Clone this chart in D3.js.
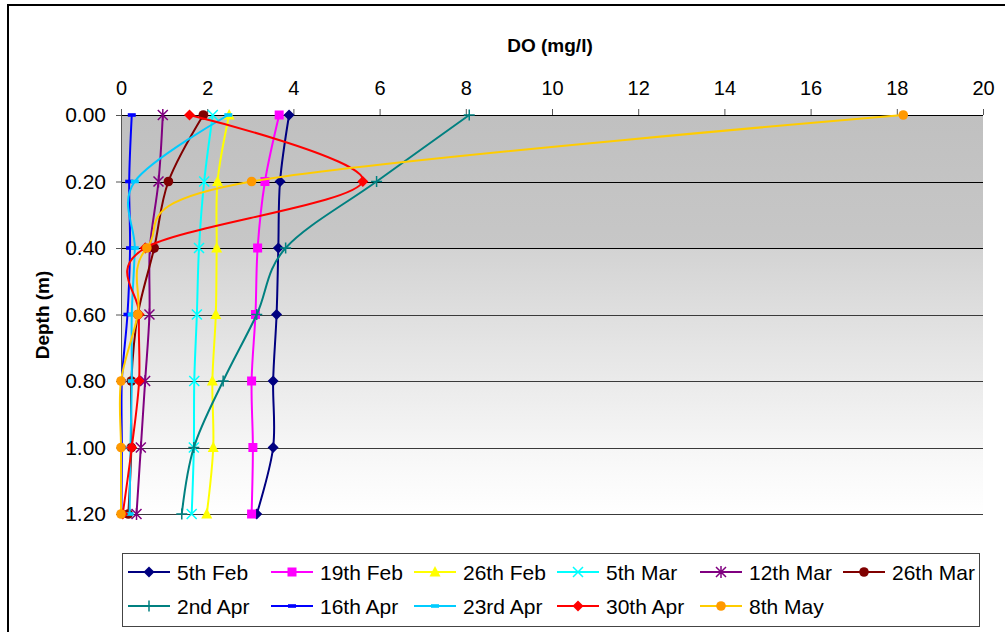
<!DOCTYPE html>
<html>
<head>
<meta charset="utf-8">
<script src="https://cdn.jsdelivr.net/npm/d3@7"></script>
<style>
    body { margin: 0; background: #fff; }
    text { font-family: "Liberation Sans", Arial, sans-serif; }
</style>
</head>
<body>
<div id="chart"></div>
<script>
// depths (m) and DO readings (mg/l), one array per sampling date
var depths = [0, 0.2, 0.4, 0.6, 0.8, 1.0, 1.2];
var seriesNames = ["5th Feb", "19th Feb", "26th Feb", "5th Mar", "12th Mar", "26th Mar",
    "2nd Apr", "16th Apr", "23rd Apr", "30th Apr", "8th May"];

var feb05 = [3.90, 3.69, 3.65, 3.61, 3.53, 3.53, 3.15];
var feb19 = [3.67, 3.34, 3.17, 3.12, 3.03, 3.06, 3.03];
var feb26 = [2.51, 2.24, 2.22, 2.20, 2.12, 2.14, 1.99];
var mar05 = [2.13, 1.93, 1.81, 1.76, 1.70, 1.69, 1.64];
var mar12 = [0.97, 0.87, 0.67, 0.66, 0.56, 0.46, 0.36];
var mar26 = [1.91, 1.10, 0.77, 0.39, 0.24, 0.24, 0.17];
var apr02 = [8.08, 5.93, 3.82, 3.15, 2.37, 1.69, 1.41];
var apr16 = [0.25, 0.19, 0.21, 0.15, 0.02, 0.02, 0.01];
var apr23 = [2.49, 0.32, 0.32, 0.25, 0.25, 0.22, 0.20];
var apr30 = [1.59, 5.61, 0.56, 0.42, 0.42, 0.25, 0.04];
var may08 = [18.15, 3.03, 0.60, 0.39, 0.00, 0.00, 0.00];

var xTicks = [0, 2, 4, 6, 8, 10, 12, 14, 16, 18, 20];

var allValues = [feb05, feb19, feb26, mar05, mar12, mar26, apr02, apr16, apr23, apr30, may08];

var styles = [
    { line: "#000080", fill: "#000080", shape: "diamond" },
    { line: "#ff00ff", fill: "#ff00ff", shape: "square" },
    { line: "#ffff00", fill: "#ffff00", shape: "triangle" },
    { line: "#00ffff", fill: "#00ffff", shape: "x" },
    { line: "#800080", fill: "#800080", shape: "star" },
    { line: "#800000", fill: "#800000", shape: "circle" },
    { line: "#008080", fill: "#008080", shape: "plus" },
    { line: "#0000ff", fill: "#0000ff", shape: "dash" },
    { line: "#00ccff", fill: "#00ccff", shape: "dash" },
    { line: "#ff0000", fill: "#ff0000", shape: "diamond" },
    { line: "#ffcc00", fill: "#ff9900", shape: "circle" }
];

DepthChart = function(_parentElement){
    this.parentElement = _parentElement;
    this.initVis();
}

DepthChart.prototype.initVis = function() {
    var vis = this;
    vis.W = 1005;
    vis.H = 632;
    vis.margin = { top: 115, left: 121, right: 22, bottom: 118 };
    vis.width = vis.W - vis.margin.left - vis.margin.right;
    vis.height = vis.H - vis.margin.top - vis.margin.bottom;

    vis.root = d3.select("#" + vis.parentElement).append("svg")
        .attr("width", vis.W)
        .attr("height", vis.H);

    // outer chart frame (runs past the right/bottom edge)
    vis.root.append("rect")
        .attr("x", 8).attr("y", 5)
        .attr("width", 1010).attr("height", 640)
        .attr("fill", "none")
        .attr("stroke", "#000")
        .attr("stroke-width", 2);

    var defs = vis.root.append("defs");
    var grad = defs.append("linearGradient")
        .attr("id", "bg").attr("x1", 0).attr("y1", 0).attr("x2", 0).attr("y2", 1);
    [[0, "#c0c0c0"], [0.333, "#c7c7c7"], [0.336, "#d3d3d3"], [0.6, "#e6e6e6"], [0.85, "#f7f7f7"], [1, "#ffffff"]]
        .forEach(function(s){
            grad.append("stop").attr("offset", s[0]).attr("stop-color", s[1]);
        });

    vis.svg = vis.root.append("g")
        .attr("transform", "translate(" + vis.margin.left + "," + vis.margin.top + ")");

    vis.x = d3.scaleLinear().domain([0, 20]).range([0, vis.width]);
    vis.y = d3.scaleLinear().domain([0, 1.2]).range([0, vis.height]);

    vis.updateVis();
}

DepthChart.prototype.marker = function(sel, shape, fill, stroke) {
    if (shape == "diamond") {
        sel.append("path").attr("d", "M0,-5.5L5.5,0L0,5.5L-5.5,0Z").attr("fill", fill);
    } else if (shape == "square") {
        sel.append("rect").attr("x", -4.5).attr("y", -4.5).attr("width", 9).attr("height", 9).attr("fill", fill);
    } else if (shape == "triangle") {
        sel.append("path").attr("d", "M0,-6L5.5,4.5L-5.5,4.5Z").attr("fill", fill);
    } else if (shape == "circle") {
        sel.append("circle").attr("r", 4.8).attr("fill", fill);
    } else if (shape == "x") {
        sel.append("path").attr("d", "M-5,-5L5,5M-5,5L5,-5").attr("stroke", stroke).attr("stroke-width", 1.5);
    } else if (shape == "star") {
        sel.append("path").attr("d", "M-5,-5L5,5M-5,5L5,-5M0,-6L0,6").attr("stroke", stroke).attr("stroke-width", 1.5);
    } else if (shape == "plus") {
        sel.append("path").attr("d", "M-5.5,0L5.5,0M0,-5.5L0,5.5").attr("stroke", stroke).attr("stroke-width", 1.5);
    } else if (shape == "dash") {
        sel.append("rect").attr("x", -4).attr("y", -1.8).attr("width", 8).attr("height", 3.6).attr("fill", fill);
    }
}

DepthChart.prototype.updateVis = function(){
    var vis = this;

    vis.svg.append("rect")
        .attr("width", vis.width)
        .attr("height", vis.height)
        .attr("fill", "url(#bg)");

    // horizontal gridlines
    vis.svg.selectAll(".grid")
        .data(depths)
        .enter().append("line")
        .attr("class", "grid")
        .attr("x1", 0).attr("x2", vis.width)
        .attr("y1", function(d){ return Math.round(vis.y(d)) + 0.5; })
        .attr("y2", function(d){ return Math.round(vis.y(d)) + 0.5; })
        .attr("stroke", function(d, i){ return i < 3 ? "#000" : "#3a3a3a"; })
        .attr("stroke-width", 1);

    // top x axis
    var xAxis = d3.axisTop(vis.x).tickValues(xTicks).tickSize(6).tickPadding(14);
    var gx = vis.svg.append("g").attr("class", "x-axis").call(xAxis);
    gx.select(".domain").remove();
    gx.selectAll(".tick line").attr("stroke", "#555");
    gx.selectAll("text").attr("font-size", 20).attr("fill", "#000");

    // left y axis
    var yAxis = d3.axisLeft(vis.y).tickValues(depths).tickFormat(d3.format(".2f")).tickSize(5).tickPadding(10);
    var gy = vis.svg.append("g").attr("class", "y-axis").call(yAxis);
    gy.select(".domain").attr("stroke", "#555").attr("d", "M0.5,0V" + vis.height);
    gy.selectAll(".tick line").attr("stroke", "#555");
    gy.selectAll("text").attr("font-size", 21).attr("fill", "#000");

    vis.root.append("text")
        .attr("x", 550).attr("y", 52)
        .attr("text-anchor", "middle")
        .attr("font-size", 19).attr("font-weight", "bold")
        .text("DO (mg/l)");

    vis.root.append("text")
        .attr("transform", "translate(49,315) rotate(-90)")
        .attr("text-anchor", "middle")
        .attr("font-size", 19).attr("font-weight", "bold")
        .text("Depth (m)");

    var line = d3.line()
        .x(function(d){ return vis.x(d.v); })
        .y(function(d){ return vis.y(d.depth); })
        .curve(d3.curveCardinal.tension(0));

    var series = allValues.map(function(vals, i){
        return {
            name: seriesNames[i],
            style: styles[i],
            points: vals.map(function(v, j){ return { v: v, depth: depths[j] }; })
        };
    });

    var groups = vis.svg.selectAll(".series")
        .data(series)
        .enter().append("g")
        .attr("class", "series");

    groups.append("path")
        .attr("d", function(d){ return line(d.points); })
        .attr("fill", "none")
        .attr("stroke", function(d){ return d.style.line; })
        .attr("stroke-width", 2);

    groups.each(function(s){
        var g = d3.select(this);
        s.points.forEach(function(p){
            var m = g.append("g")
                .attr("transform", "translate(" + vis.x(p.v) + "," + vis.y(p.depth) + ")");
            vis.marker(m, s.style.shape, s.style.fill, s.style.line);
        });
    });

    // legend
    var lg = vis.root.append("g").attr("class", "legend");
    lg.append("rect")
        .attr("x", 122.5).attr("y", 553.5)
        .attr("width", 857).attr("height", 73)
        .attr("fill", "#fff")
        .attr("stroke", "#444");

    var item = lg.selectAll(".item")
        .data(series)
        .enter().append("g")
        .attr("class", "item")
        .attr("transform", function(d, i){
            return "translate(" + (128 + (i % 6) * 143) + "," + (i < 6 ? 572 : 606) + ")";
        });

    item.append("line")
        .attr("x1", 0).attr("x2", 42)
        .attr("stroke", function(d){ return d.style.line; })
        .attr("stroke-width", 2);

    item.each(function(d){
        var m = d3.select(this).append("g").attr("transform", "translate(21,0)");
        vis.marker(m, d.style.shape, d.style.fill, d.style.line);
    });

    item.append("text")
        .attr("x", 49).attr("y", 7.5)
        .attr("font-size", 21)
        .text(function(d){ return d.name; });
}

var chart = new DepthChart("chart");
</script>
</body>
</html>
